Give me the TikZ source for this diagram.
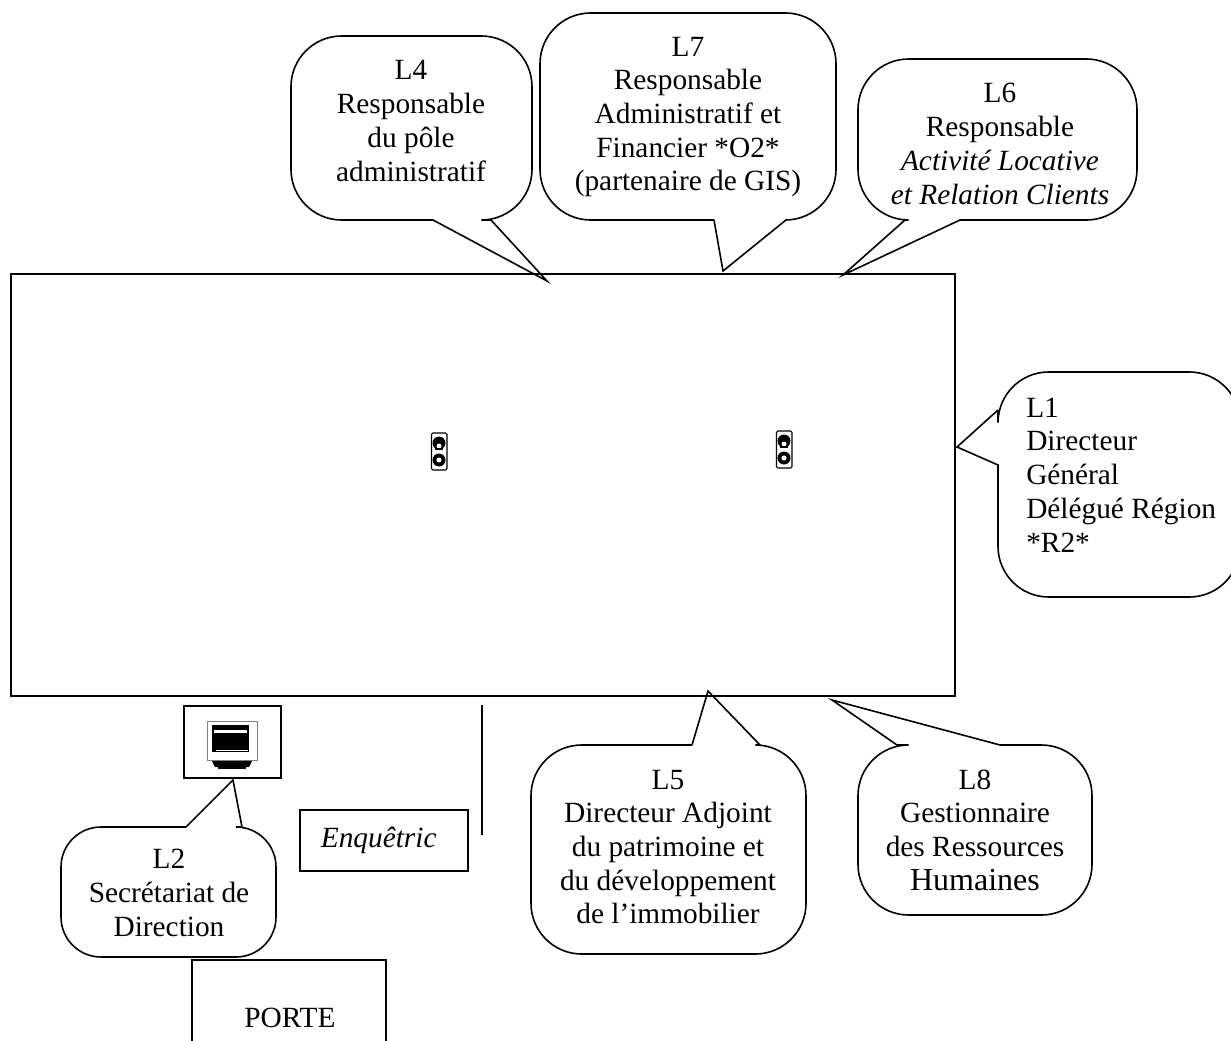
\documentclass[tikz,border=0pt]{standalone}
\usepackage{fontspec}
\setmainfont{Liberation Serif}
\tikzset{
    bubble/.style={draw,line width=1.2pt,line join=miter},
    label/.style={align=center,inner sep=0pt,font=\fontsize{22}{25.3}\selectfont},
    frame/.style={draw,line width=1.2pt,inner sep=0pt,outer sep=0pt}
}
\begin{document}
\begin{tikzpicture}[x=0.75pt,y=-0.75pt]
        \useasboundingbox (0,0) rectangle (1231,1041);
        \clip (0,0) rectangle (1231,1041);

        \node (room) at (483,485) [frame,minimum width=708pt,minimum height=316.5pt] {};
        \node (screen) at (232.5,742) [frame,minimum width=72.75pt,minimum height=54pt] {};
        \node (enquetric) at (384,840.5) [frame,label,minimum width=126pt,minimum height=45.75pt] {\hspace*{-8pt}\textit{Enquêtric}};

        % bubbles
        \draw[bubble] (433,220) -- (547,281) -- (491,220) [rounded corners=38] -- (532,220) -- (532,36) -- (291,36) -- (291,220) -- (433,220);
        \draw[bubble] (714,220) -- (723,271) -- (786,220) [rounded corners=38] -- (836,220) -- (836,13) -- (540,13) -- (540,220) -- (714,220);
        \draw[bubble] (905,220) -- (843,275) -- (960,220) [rounded corners=38] -- (1137,220) -- (1137,59) -- (858,59) -- (858,220) -- (905,220);
        \draw[bubble] (998,410) -- (957,447) -- (998,465) [rounded corners=38] -- (998,597) -- (1240,597) -- (1240,372) -- (998,372) -- (998,410);
        \draw[bubble] (692,745) -- (708,691) -- (760,745) [rounded corners=38] -- (806,745) -- (806,954) -- (531,954) -- (531,745) -- (692,745);
        \draw[bubble] (897,745) -- (832,700) -- (1000,745) [rounded corners=38] -- (1092,745) -- (1092,915) -- (858,915) -- (858,745) -- (897,745);
        \draw[bubble] (186,827) -- (233,780) -- (242,827) [rounded corners=30] -- (276,827) -- (276,957) -- (61,957) -- (61,827) -- (186,827);

        \node (l4) at (411,121) [label] {L4\\Responsable\\du pôle\\administratif};
        \node (l7) at (688,117) [label] {L7\\Responsable\\Administratif et\\Financier *O2*\\(partenaire de GIS)};
        \node (l6) at (1000,144) [label] {L6\\Responsable\\\textit{Activité Locative}\\\textit{et Relation Clients}};
        \node (l1) at (1026,475) [label,align=left,anchor=west] {L1\\Directeur\\Général\\Délégué Région\\*R2*};
        \node (l5) at (668,847) [label] {L5\\Directeur Adjoint\\du patrimoine et\\du développement\\de l’immobilier};
        \node (l8) at (975,830) [label] {L8\\Gestionnaire\\des Ressources\\{\fontsize{24}{25.3}\selectfont Humaines}};
        \node (l2) at (169,893) [label] {L2\\Secrétariat de\\Direction};

        % sockets
        \foreach \sx/\sy in {438/451,783/449} {
            \draw[line width=0.8pt,rounded corners=1] (\sx-6.5,\sy-18) rectangle (\sx+9,\sy+19);
            \fill (\sx+1,\sy-8) circle (6.5);
            \fill (\sx+1,\sy+9) circle (6.5);
            \fill[white] (\sx+1,\sy-5) circle (2.5);
            \fill[white] (\sx+1,\sy+9) circle (2.5);
            \draw[line width=0.8pt] (\sx-3,\sy-2) -- (\sx+5,\sy-2);
        }

        % monitor
        \draw[gray,line width=0.5pt] (207,721) rectangle (257,760);
        \fill (212,725) rectangle (249,752);
        \fill[white] (214,730) rectangle (247,733);
        \fill[white] (216,750) rectangle (248,751);
        \fill (212,761) -- (252,761) -- (249,767) -- (215,767) -- cycle;
        \fill (218,767) rectangle (246,769);

        % partition and door
        \coordinate (wallA) at (482,705);
        \coordinate (wallB) at (482,835);
        \draw[line width=1.2pt] (wallA) -- (wallB);
        \coordinate (porteA) at (192,1050);
        \coordinate (porteB) at (386,1050);
        \draw[line width=1.2pt] (porteA) |- (386,960) -- (porteB);
        \node (porte) at (290,1018) [label] {PORTE};
    \end{tikzpicture}
\end{document}
